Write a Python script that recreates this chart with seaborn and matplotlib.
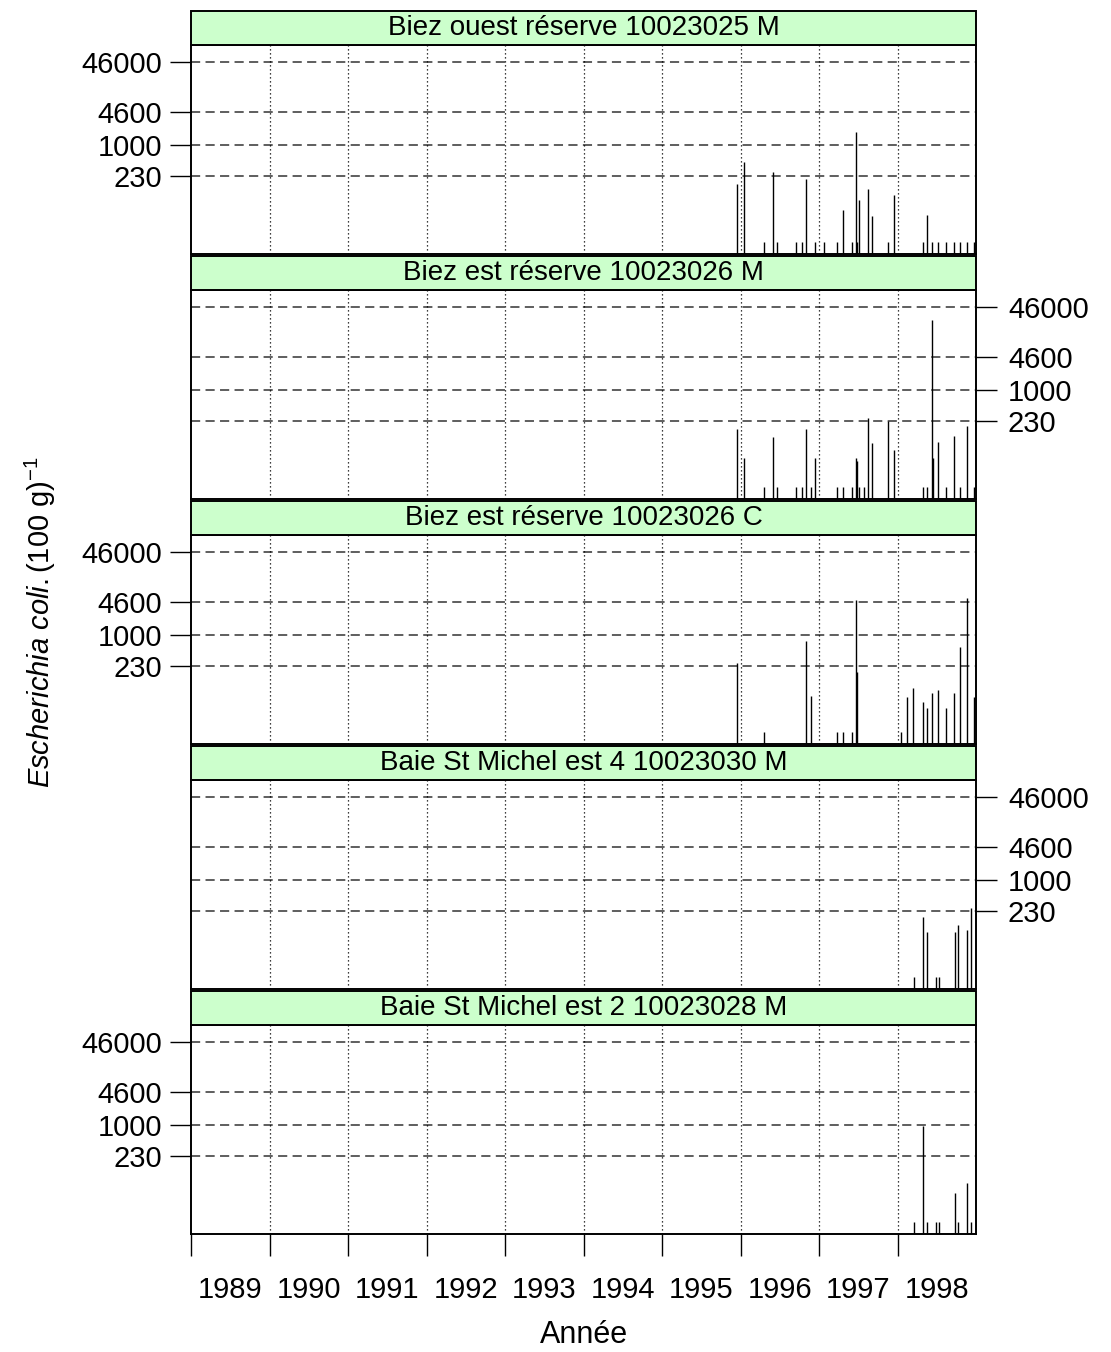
import numpy as np
import pandas as pd
import matplotlib
matplotlib.use("Agg")
import matplotlib.pyplot as plt
import seaborn as sns
from matplotlib.patches import Rectangle
from matplotlib.ticker import NullLocator, FixedLocator

sites = [
    "Biez ouest réserve 10023025 M",
    "Biez est réserve 10023026 M",
    "Biez est réserve 10023026 C",
    "Baie St Michel est 4 10023030 M",
    "Baie St Michel est 2 10023028 M",
]

# sampling dates (decimal years) and E. coli counts
dates_1 = [1995.95, 1996.05, 1996.30, 1996.42, 1996.46, 1996.71, 1996.78, 1996.83,
           1996.95, 1997.07, 1997.23, 1997.30, 1997.42, 1997.47, 1997.48, 1997.51,
           1997.62, 1997.67, 1997.88, 1997.96, 1998.32, 1998.37, 1998.44, 1998.52,
           1998.62, 1998.72, 1998.79, 1998.88, 1998.97]
ecoli_1 = [160, 435, 11, 275, 11, 11, 11, 205,
           11, 11, 11, 48, 11, 1750, 11, 76,
           128, 37, 11, 95, 11, 39, 11, 11,
           11, 11, 11, 11, 11]

dates_2 = [1995.95, 1996.05, 1996.30, 1996.42, 1996.46, 1996.71, 1996.78, 1996.83,
           1996.90, 1996.95, 1997.23, 1997.30, 1997.42, 1997.47, 1997.48, 1997.51,
           1997.57, 1997.62, 1997.67, 1997.88, 1997.96, 1998.32, 1998.37, 1998.44,
           1998.45, 1998.52, 1998.62, 1998.72, 1998.79, 1998.88, 1998.97]
ecoli_2 = [160, 42, 11, 110, 11, 11, 11, 160,
           11, 42, 11, 11, 11, 42, 36, 11,
           11, 263, 84, 233, 61, 11, 11, 25000,
           42, 90, 11, 117, 11, 183, 11]

dates_3 = [1995.95, 1996.30, 1996.83, 1996.90, 1997.23, 1997.30, 1997.42, 1997.47,
           1997.48, 1998.04, 1998.12, 1998.20, 1998.32, 1998.37, 1998.44, 1998.52,
           1998.62, 1998.72, 1998.79, 1998.88, 1998.97]
ecoli_3 = [270, 11, 740, 59, 11, 11, 11, 4900,
           180, 11, 55, 85, 43, 33, 66, 78,
           33, 66, 570, 5500, 55]

dates_4 = [1998.21, 1998.32, 1998.37, 1998.49, 1998.53, 1998.73, 1998.77, 1998.88, 1998.93]
ecoli_4 = [11, 180, 90, 11, 11, 90, 122, 96, 262]

dates_5 = [1998.21, 1998.32, 1998.37, 1998.49, 1998.53, 1998.73, 1998.77, 1998.88, 1998.93]
ecoli_5 = [11, 930, 11, 11, 11, 42, 11, 66, 11]

years = list(range(1989, 1999))
year_labels = [str(y) for y in years]
y_ticks = [230, 1000, 4600, 46000]
y_labels = ["230", "1000", "4600", "46000"]

all_dates = [dates_1, dates_2, dates_3, dates_4, dates_5]
all_ecoli = [ecoli_1, ecoli_2, ecoli_3, ecoli_4, ecoli_5]
df = pd.concat(
    [pd.DataFrame({"site": s, "date": d, "ecoli": e})
     for s, d, e in zip(sites, all_dates, all_ecoli)],
    ignore_index=True,
)

sns.set_style("white")
plt.rcParams["font.family"] = ["Liberation Sans", "DejaVu Sans"]
plt.rcParams["mathtext.fontset"] = "custom"
plt.rcParams["mathtext.rm"] = "Liberation Sans"
plt.rcParams["mathtext.it"] = "Liberation Sans:italic"
for key in ["text.color", "axes.labelcolor", "xtick.color", "ytick.color"]:
    plt.rcParams[key] = "black"

Y_LOW, Y_HIGH = 6.3, 1e5


def spikes(data, **kws):
    plt.vlines(data["date"], Y_LOW, data["ecoli"], color="black", lw=1.0)


g = sns.FacetGrid(df, row="site", row_order=sites, sharex=True, sharey=True,
                  height=2.0, aspect=4, despine=False)
g.map_dataframe(spikes)
g.set_titles("")
g.set_axis_labels("", "")

fig = g.figure
fig.set_size_inches(11.11, 13.52)
W, H = 1111, 1352
left_px, right_px = 191, 976

for i, (ax, site) in enumerate(zip(g.axes.flat, sites)):
    top_px = 45 + 245 * i
    ax.set_position([left_px / W, 1 - (top_px + 209) / H, (right_px - left_px) / W, 209 / H])
    ax.set_yscale("log")
    ax.set_ylim(Y_LOW, Y_HIGH)
    ax.set_xlim(1989, 1999)
    ax.yaxis.set_major_locator(FixedLocator(y_ticks))
    ax.yaxis.set_minor_locator(NullLocator())
    ax.set_yticklabels(y_labels)
    for sp in ax.spines.values():
        sp.set_color("black")
        sp.set_linewidth(1.4)

    # grid
    for yt in y_ticks:
        ax.axhline(yt, color="0.2", lw=1.1, ls=(0, (6, 3.5)), zorder=0)
    for yr in years[1:] + [1999]:
        ax.axvline(yr, color="black", lw=0.9, ls=(0, (1, 2.2)), zorder=0)

    if i % 2 == 0:
        ax.yaxis.tick_left()
        ax.tick_params(axis="y", which="major", direction="out", length=15, width=1,
                       pad=6, labelsize=21, left=True, right=False)
    else:
        ax.yaxis.tick_right()
        ax.tick_params(axis="y", which="major", direction="out", length=15, width=1,
                       pad=8, labelsize=21, left=False, right=True,
                       labelright=True, labelleft=False)

    # strip
    strip_h = 34 / 209
    ax.add_patch(Rectangle((0, 1), 1, strip_h, transform=ax.transAxes,
                           facecolor="#ccffcc", edgecolor="black", lw=1.4,
                           clip_on=False, zorder=5))
    ax.text(0.5, 1 + strip_h / 2, site, transform=ax.transAxes, ha="center",
            va="center", fontsize=20, zorder=6)

    ax.xaxis.set_major_locator(FixedLocator(years))
    ax.xaxis.set_minor_locator(FixedLocator([y + 0.5 for y in years]))
    if i < len(sites) - 1:
        ax.tick_params(axis="x", which="both", length=0, labelbottom=False)
    else:
        ax.tick_params(axis="x", which="major", direction="out", length=16, width=1,
                       labelbottom=False, bottom=True)
        ax.tick_params(axis="x", which="minor", length=0, pad=30, labelsize=21,
                       labelbottom=True)
        ax.set_xticklabels(year_labels, minor=True)

fig.text((left_px + right_px) / 2 / W, 1 - 1335 / H, "Année", ha="center",
         va="center", fontsize=22)
fig.text(40 / W, 1 - 622 / H, r"$\mathit{Escherichia\ coli.}$(100 g)$^{-1}$",
         rotation=90, ha="center", va="center", fontsize=21)

fig.savefig("out.png", dpi=100, facecolor="white")
